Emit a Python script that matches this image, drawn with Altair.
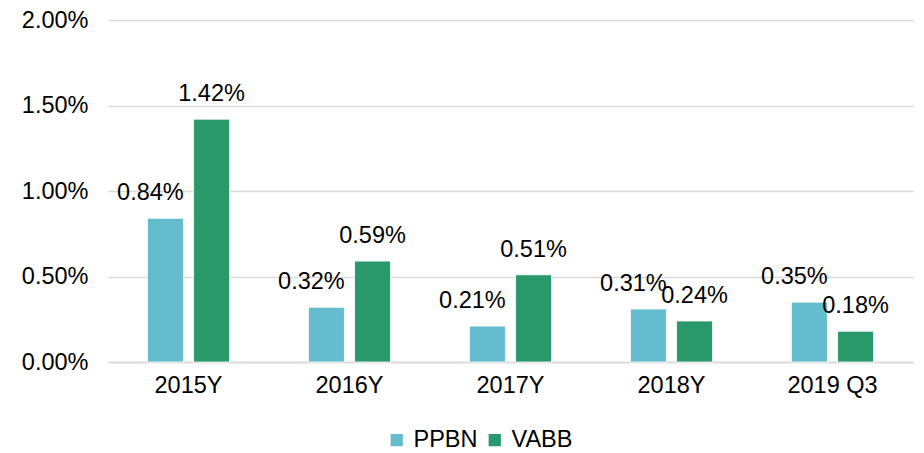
import altair as alt
import pandas as pd

categories = ["2015Y", "2016Y", "2017Y", "2018Y", "2019 Q3"]
series = ["PPBN", "VABB"]
ppbn = [0.0084, 0.0032, 0.0021, 0.0031, 0.0035]
vabb = [0.0142, 0.0059, 0.0051, 0.0024, 0.0018]
colors = ["#64BDCF", "#29996B"]

rows = []
for c, p, v in zip(categories, ppbn, vabb):
    rows.append({"period": c, "series": "PPBN", "value": p})
    rows.append({"period": c, "series": "VABB", "value": v})
df = pd.DataFrame(rows)

FONT = "Liberation Sans"
FS = 23.5

x = alt.X("period:N", sort=categories, title=None,
          scale=alt.Scale(paddingInner=0.49, paddingOuter=0.245),
          axis=alt.Axis(labelAngle=0, labelFontSize=FS, labelColor="#000000",
                        labelFont=FONT, ticks=False, domainColor="#d9d9d9",
                        domainWidth=1.5, labelPadding=11))
y = alt.Y("value:Q", title=None,
          scale=alt.Scale(domain=[0, 0.02], nice=False),
          axis=alt.Axis(values=[0, 0.005, 0.01, 0.015, 0.02], format=".2%",
                        labelFontSize=FS, labelColor="#000000", labelFont=FONT,
                        ticks=False, domain=False, gridColor="#d9d9d9",
                        gridWidth=1.5, labelPadding=20))
color = alt.Color("series:N", sort=series, title=None,
                  scale=alt.Scale(domain=series, range=colors),
                  legend=alt.Legend(orient="none", legendX=277, legendY=408,
                                    direction="horizontal", symbolType="square",
                                    symbolSize=150, labelFontSize=FS,
                                    labelFont=FONT, labelColor="#000000",
                                    symbolStrokeWidth=0, columnPadding=5,
                                    labelOffset=5))
xoff = alt.XOffset("series:N", sort=series,
                   scale=alt.Scale(paddingInner=0.22, paddingOuter=0))

base = alt.Chart(df).encode(x=x, xOffset=xoff)

bars = base.mark_bar(stroke="white", strokeWidth=0.8).encode(y=y, color=color)

labels_p = base.transform_filter(alt.datum.series == "PPBN").mark_text(
    baseline="alphabetic", dy=-18, dx=-15, fontSize=FS, font=FONT, color="#000000"
).encode(y=y, text=alt.Text("value:Q", format=".2%"))
labels_v = base.transform_filter(alt.datum.series == "VABB").mark_text(
    baseline="alphabetic", dy=-18, dx=0, fontSize=FS, font=FONT, color="#000000"
).encode(y=y, text=alt.Text("value:Q", format=".2%"))

chart = alt.layer(bars, labels_p, labels_v).properties(
    width=805, height=342,
    autosize=alt.AutoSizeParams(type="none"),
    padding={"left": 100, "top": 12, "right": 3, "bottom": 90},
).configure_view(stroke=None)

chart.save("out.html", embed_options={"renderer": "svg", "actions": False})
